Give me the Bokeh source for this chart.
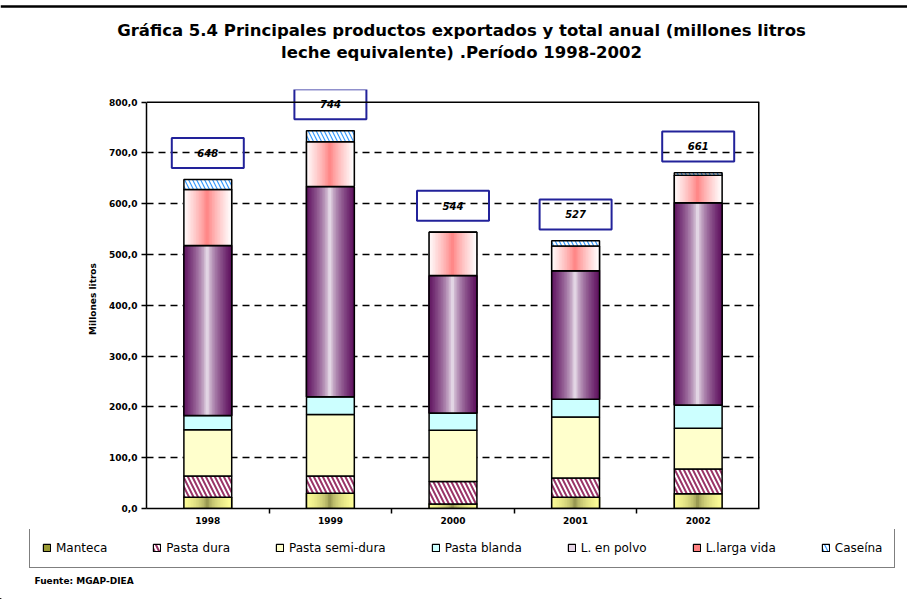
import numpy as np
from bokeh.plotting import figure
from bokeh.layouts import column
from bokeh.models import FixedTicker, Legend, LegendItem, Range1d, Label, Span
from bokeh.core.properties import value
from bokeh.embed import file_html
from bokeh.resources import INLINE

# ---- data (millones litros leche equivalente) ----
years = ["1998", "1999", "2000", "2001", "2002"]
manteca = [22, 30, 9, 22, 29]
pasta_dura = [42, 34, 44, 38, 49]
pasta_semidura = [91, 121, 101, 120, 80]
pasta_blanda = [28, 35, 34, 35, 46]
leche_polvo = [335, 414, 271, 253, 398]
larga_vida = [110, 88, 85, 49, 54]
caseina = [20, 22, 0, 10, 5]
totales = [648, 744, 544, 527, 661]
y_ticks = [0, 100, 200, 300, 400, 500, 600, 700, 800]
y_tick_labels = ["0,0", "100,0", "200,0", "300,0", "400,0", "500,0", "600,0", "700,0", "800,0"]
series_names = ["Manteca", "Pasta dura", "Pasta semi-dura", "Pasta blanda",
                "L. en polvo", "L.larga vida", "Caseína"]
title_lines = ["Gráfica 5.4 Principales productos exportados y total anual (millones litros",
               "leche equivalente) .Período 1998-2002"]
fuente = "Fuente: MGAP-DIEA"

W = 907
H_HEAD, H_MAIN, H_LEG = 80, 449, 70
FONT = "DejaVu Sans"
BW = 0.39
Y_MAX = y_ticks[-1]
X_MIN, X_MAX = -0.5, len(years) - 0.5

def blank(h):
    f = figure(width=W, height=h, x_range=Range1d(0, W), y_range=Range1d(0, h),
               output_backend="svg", toolbar_location=None, frame_align=False,
               min_border=0, min_border_left=0, min_border_right=0,
               min_border_top=0, min_border_bottom=0)
    f.axis.visible = False
    f.grid.visible = False
    f.outline_line_color = None
    return f

# ---- header with title ----
head = blank(H_HEAD)
head.add_layout(Span(location=H_HEAD - 6, dimension="width", line_color="black", line_width=2.5))
for line, yy in zip(title_lines, (H_HEAD - 30, H_HEAD - 52)):
    head.add_layout(Label(x=461, y=yy, text=line, text_align="center", text_baseline="middle",
                          text_font=FONT, text_font_size="16.5px", text_font_style="bold",
                          text_color="black"))

# ---- main chart ----
p = figure(width=W, height=H_MAIN, x_range=Range1d(X_MIN, X_MAX), y_range=Range1d(0, 825),
           output_backend="svg", toolbar_location=None, frame_align=False,
           min_border_left=146, min_border_right=148, min_border_top=9, min_border_bottom=21)

p.outline_line_color = None
p.xgrid.visible = False
p.ygrid.grid_line_color = "black"
p.ygrid.grid_line_dash = "7 5"
p.ygrid.grid_line_width = 1.5
p.ygrid.ticker = FixedTicker(ticks=y_ticks[:-1])

idx = np.arange(len(years))
p.yaxis.ticker = FixedTicker(ticks=y_ticks)
p.yaxis.bounds = (0, Y_MAX)
p.yaxis.major_label_overrides = {t: l for t, l in zip(y_ticks, y_tick_labels)}
p.yaxis.axis_label = "Millones litros"
p.yaxis.axis_label_text_font = FONT
p.yaxis.axis_label_text_font_size = "9px"
p.yaxis.axis_label_text_font_style = "bold"
p.yaxis.axis_label_text_color = "black"
p.yaxis.axis_label_standoff = 8
p.yaxis.major_label_standoff = 4
p.xaxis.ticker = FixedTicker(ticks=list(idx), minor_ticks=[0.5, 1.5, 2.5, 3.5])
p.xaxis.major_label_overrides = {int(i): y for i, y in zip(idx, years)}
p.xaxis.major_tick_out = 0
p.xaxis.major_tick_in = 0
p.xaxis.minor_tick_out = 5
p.xaxis.minor_tick_in = 0
p.xaxis.major_label_standoff = 3
p.yaxis.minor_tick_out = 0
p.yaxis.major_tick_in = 0
p.yaxis.major_tick_out = 5
for ax in (p.xaxis, p.yaxis):
    ax.axis_line_width = 1.5
    ax.major_tick_line_width = 1.5
    ax.minor_tick_line_width = 1.5
    ax.major_label_text_font = FONT
    ax.major_label_text_font_size = "9px"
    ax.major_label_text_font_style = "bold"
    ax.major_label_text_color = "black"

# plot-area border: top at the axis maximum, right at the last category edge
p.add_layout(Span(location=Y_MAX, dimension="width", line_color="black", line_width=1.5))
p.segment(x0=[X_MAX], y0=[0], x1=[X_MAX], y1=[Y_MAX], line_color="black", line_width=3)

series = [manteca, pasta_dura, pasta_semidura, pasta_blanda, leche_polvo, larga_vida, caseina]
stack = np.cumsum(np.array(series, dtype=float), axis=0)
bottoms = np.vstack([np.zeros(len(years)), stack[:-1]])
tops = stack

def mix(c1, c2, t):
    a = [int(c1[i:i + 2], 16) for i in (1, 3, 5)]
    b = [int(c2[i:i + 2], 16) for i in (1, 3, 5)]
    return "#%02x%02x%02x" % tuple(int(round(a[k] + (b[k] - a[k]) * t)) for k in range(3))

styles = [
    dict(fill_color="#999933", grad=("#FFFF99", "#6E6E35", 0.35)),
    dict(fill_color="white", hatch_pattern="\\", hatch_color="#993366", hatch_weight=2, hatch_scale=9),
    dict(fill_color="#FFFFCC"),
    dict(fill_color="#CCFFFF"),
    dict(fill_color="#E6D5E6", grad=("#5E105E", "#F6F2F8", 0.6)),
    dict(fill_color="#FF8080", grad=("#FFFFFF", "#FF8080", 0.8)),
    dict(fill_color="white", hatch_pattern="\\", hatch_color="#3399FF", hatch_weight=1.2, hatch_scale=8),
]

NS = 30
for s, st in enumerate(styles):
    st = dict(st)
    grad = st.pop("grad", None)
    p.vbar(x=idx, bottom=bottoms[s], top=tops[s], width=BW, line_color="black", line_width=1.5, **st)
    if grad is not None:
        edge, center, pw = grad
        for k in range(NS):
            t = (k + 0.5) / NS
            d = abs(t - 0.5) * 2
            col = mix(center, edge, d ** pw)
            p.vbar(x=idx - BW / 2 + t * BW, bottom=bottoms[s], top=tops[s], width=BW / NS * 1.8,
                   fill_color=col, line_color=None)
        p.vbar(x=idx, bottom=bottoms[s], top=tops[s], width=BW, fill_alpha=0,
               line_color="black", line_width=1.5)

# total labels
lab_y = np.array(totales, dtype=float) + 52
p.rect(x=idx, y=lab_y, width=72, height=30, width_units="screen", height_units="screen",
       fill_alpha=0, line_color="#22229A", line_width=2)
p.text(x=idx, y=lab_y, text=[str(t) for t in totales], text_align="center", text_baseline="middle",
       text_font=value(FONT), text_font_size="10px", text_font_style="bold italic", text_color="black")

# ---- legend + source ----
leg = blank(H_LEG)
legend_items = []
for s, st in enumerate(styles):
    st = dict(st)
    st.pop("grad", None)
    # proxy glyph placed outside the visible range, only used for its legend swatch
    r = leg.vbar(x=[-1000], bottom=[0], top=[1], width=1, line_color="black", line_width=1.2, **st)
    legend_items.append(LegendItem(label=series_names[s], renderers=[r]))
legend = Legend(items=legend_items, orientation="horizontal", location=(29, 31),
                border_line_color="black", border_line_width=1.5, padding=12, spacing=45,
                glyph_width=9, glyph_height=9, label_height=15, label_standoff=5,
                label_text_font=FONT, label_text_font_size="12px", label_text_color="black",
                background_fill_color="white", background_fill_alpha=1, margin=0)
leg.add_layout(legend)
leg.add_layout(Label(x=34, y=19, text=fuente, text_baseline="middle", text_font=FONT,
                     text_font_size="9px", text_font_style="bold", text_color="black"))

layout = column(head, p, leg, spacing=0)

open("out.html", "w").write(file_html(layout, INLINE))
